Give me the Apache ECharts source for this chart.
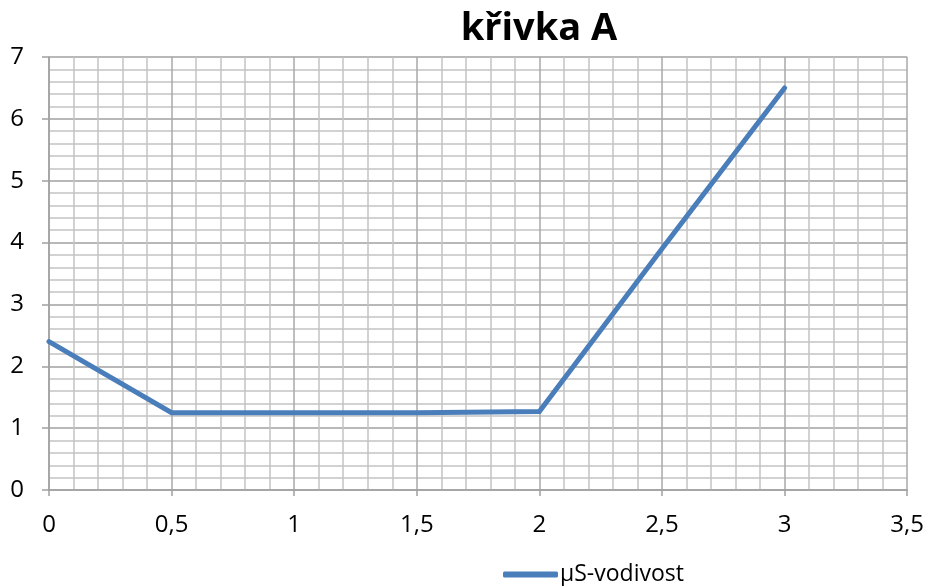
<!DOCTYPE html>
<html>
<head>
<meta charset="utf-8">
<script src="https://cdn.jsdelivr.net/npm/echarts@6/dist/echarts.min.js"></script>
<style>
  html, body { margin: 0; padding: 0; background: #fff; }
  #chart { width: 927px; height: 586px; }
</style>
</head>
<body>
<div id="chart"></div>
<script>
// Conductivity curve A
const xValues = [0, 0.5, 1, 1.5, 2, 2.5, 3];
const conductivity = [2.4, 1.25, 1.25, 1.25, 1.27, 3.9, 6.5];
const seriesName = 'µS-vodivost';
const chartTitle = 'křivka A';

const fmt = v => String(v).replace('.', ',');
const font = '"Open Sans", "DejaVu Sans", sans-serif';

const chart = echarts.init(document.getElementById('chart'));
chart.setOption({
  animation: false,
  title: {
    text: chartTitle,
    left: 534, top: 5,
    textAlign: 'center',
    textStyle: { fontFamily: font, fontSize: 38, fontWeight: 'bold', color: '#000' }
  },
  legend: {
    data: [seriesName],
    bottom: -5, left: 498,
    icon: 'roundRect',
    itemWidth: 55, itemHeight: 6,
    itemGap: 2,
    textStyle: { fontFamily: font, fontSize: 23, color: '#000', padding: [0, 0, 0, -3] }
  },
  grid: { left: 49, right: 18, top: 57, bottom: 96 },
  xAxis: {
    type: 'value',
    min: 0, max: 3.5, interval: 0.5,
    axisLine: { show: true, lineStyle: { color: '#a0a0a0', width: 1.5 } },
    axisTick: { show: true, length: 6, lineStyle: { color: '#a0a0a0', width: 1.5 } },
    axisLabel: { formatter: fmt, fontFamily: font, fontSize: 24, color: '#000', margin: 23 },
    splitLine: { show: true, lineStyle: { color: '#a8a8a8', width: 1.5 } },
    minorTick: { show: false, splitNumber: 5 },
    minorSplitLine: { show: true, lineStyle: { color: '#c4c4c4', width: 1.5 } }
  },
  yAxis: {
    type: 'value',
    min: 0, max: 7, interval: 1,
    axisLine: { show: true, lineStyle: { color: '#a0a0a0', width: 1.5 } },
    axisTick: { show: true, length: 7, lineStyle: { color: '#a0a0a0', width: 1.5 } },
    axisLabel: { fontFamily: font, fontSize: 24, color: '#000', margin: 25 },
    splitLine: { show: true, lineStyle: { color: '#a0a0a0', width: 1.5 } },
    minorTick: { show: false, splitNumber: 5 },
    minorSplitLine: { show: true, lineStyle: { color: '#c4c4c4', width: 1.5 } }
  },
  series: [{
    name: seriesName,
    type: 'line',
    data: xValues.map((x, i) => [x, conductivity[i]]),
    showSymbol: false,
    symbol: 'none',
    lineStyle: { color: '#4a7ebb', width: 5, cap: 'round', join: 'miter' },
    itemStyle: { color: '#4a7ebb' }
  }]
});
</script>
</body>
</html>
